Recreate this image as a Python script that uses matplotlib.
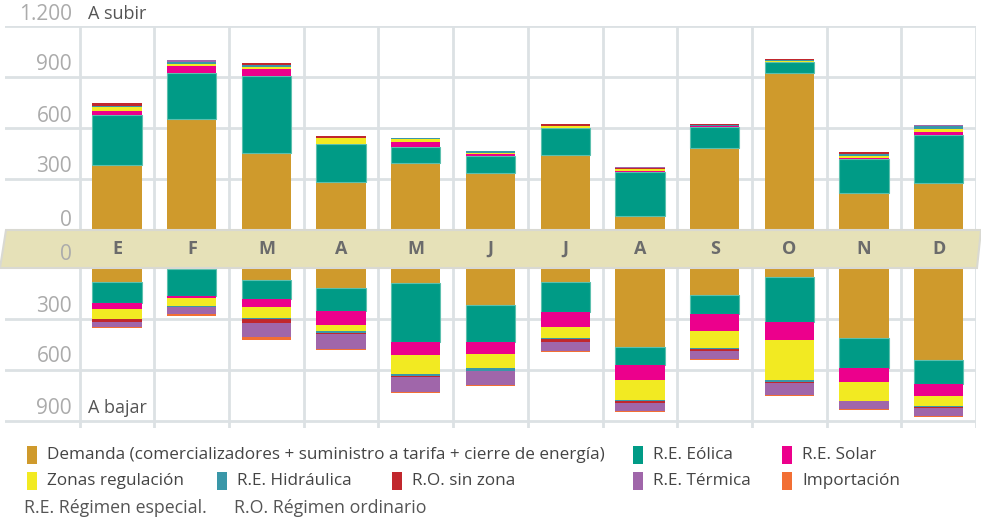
import matplotlib.pyplot as plt
from matplotlib.patches import Polygon, Rectangle
import numpy as np

plt.rcParams['font.family'] = ['Open Sans', 'DejaVu Sans']

months = ['E', 'F', 'M', 'A', 'M', 'J', 'J', 'A', 'S', 'O', 'N', 'D']

series = ['Demanda', 'R.E. Eólica', 'R.E. Solar', 'Zonas regulación',
          'R.E. Hidráulica', 'R.O. sin zona', 'R.E. Térmica', 'Importación']
colors = ['#CF9A2C', '#009B86', '#EC008C', '#F2EA22',
          '#3A97A8', '#C1272D', '#A066AA', '#F26F34']

# "A subir" (upward regulation), MWh per month
up_demanda = [382, 653, 453, 282, 392, 335, 441, 82, 482, 924, 218, 276]
up_eolica = [294, 271, 455, 224, 96, 100, 157, 259, 124, 64, 198, 283]
up_solar = [26, 41, 39, 2, 30, 14, 0, 8, 5, 0, 8, 18]
up_zonas = [23, 12, 12, 31, 17, 6, 16, 10, 0, 8, 11, 15]
up_hidraulica = [6, 11, 14, 0, 6, 8, 0, 0, 6, 4, 12, 20]
up_rosz = [14, 0, 11, 12, 0, 0, 7, 6, 6, 6, 12, 0]
up_termica = [0, 12, 0, 0, 0, 2, 5, 4, 3, 0, 0, 6]
up_import = [0, 0, 0, 0, 0, 0, 0, 0, 0, 0, 0, 0]

# "A bajar" (downward regulation)
dn_demanda = [82, 8, 71, 116, 90, 220, 84, 467, 159, 53, 414, 541]
dn_eolica = [126, 155, 111, 139, 343, 213, 173, 102, 112, 263, 176, 141]
dn_solar = [33, 13, 47, 80, 79, 73, 90, 90, 100, 108, 81, 71]
dn_zonas = [59, 46, 65, 36, 112, 82, 65, 118, 100, 235, 111, 59]
dn_hidraulica = [0, 9, 6, 11, 9, 18, 8, 7, 7, 10, 2, 6]
dn_rosz = [16, 0, 24, 5, 8, 0, 15, 10, 10, 8, 0, 6]
dn_termica = [31, 40, 82, 90, 88, 82, 55, 47, 47, 68, 47, 45]
dn_import = [6, 9, 16, 5, 6, 4, 4, 6, 4, 6, 6, 6]

up = [up_demanda, up_eolica, up_solar, up_zonas, up_hidraulica, up_rosz, up_termica, up_import]
dn = [dn_demanda, dn_eolica, dn_solar, dn_zonas, dn_hidraulica, dn_rosz, dn_termica, dn_import]

legend_labels = ['Demanda (comercializadores + suministro a tarifa + cierre de energía)',
                 'R.E. Eólica', 'R.E. Solar', 'Zonas regulación', 'R.E. Hidráulica',
                 'R.O. sin zona', 'R.E. Térmica', 'Importación']

W, H = 981, 523
fig = plt.figure(figsize=(W / 100, H / 100), dpi=100)


def fx(x):
    return x / W


def fy(y):
    return 1 - y / H


grid_c = '#DCE1E4'
x = np.arange(len(months))


def setup(ax, ymax, ticks):
    ax.set_xlim(-1.5, 11.5)
    ax.set_ylim(0, ymax)
    ax.set_xticks(np.arange(-0.5, 12, 1))
    ax.set_yticks(ticks)
    ax.tick_params(length=0, labelleft=False, labelbottom=False)
    ax.grid(True, color=grid_c, linewidth=2)
    ax.set_axisbelow(True)
    for s in ax.spines.values():
        s.set_visible(False)


def stack(ax, data):
    bottom = np.zeros(len(months))
    for vals, c in zip(data, colors):
        vals = np.array(vals, dtype=float)
        ec = '#5CC0AE' if c == '#009B86' else 'none'
        ax.bar(x, vals, 0.66, bottom=bottom, color=c, edgecolor=ec,
               linewidth=0.8, zorder=2)
        bottom += vals


# top panel
ax1 = fig.add_axes([fx(5), fy(230), fx(976) - fx(5), fy(26) - fy(230)])
setup(ax1, 1200, [300, 600, 900, 1200])
stack(ax1, up)

# bottom panel
ax2 = fig.add_axes([fx(5), fy(428), fx(976) - fx(5), fy(268) - fy(428)])
setup(ax2, 941, [300, 600, 900])
ax2.invert_yaxis()
stack(ax2, dn)

tick_c = '#ABABAB'
for v, y in zip(['1.200', '900', '600', '300', '0'], [14, 64, 116, 167, 220]):
    fig.text(fx(72), fy(y), v, ha='right', va='center', fontsize=15, color=tick_c)
for v, y in zip(['0', '300', '600', '900'], [255, 307, 357, 408]):
    fig.text(fx(72), fy(y), v, ha='right', va='center', fontsize=15, color=tick_c, zorder=5)

fig.text(fx(88), fy(14), 'A subir', ha='left', va='center', fontsize=13, color='#555555')
fig.text(fx(88), fy(408), 'A bajar', ha='left', va='center', fontsize=13, color='#555555')

# month band
band = Polygon([(fx(6), fy(230)), (fx(981), fy(230)), (fx(977), fy(268)), (fx(0), fy(268))],
               closed=True, transform=fig.transFigure, facecolor='#E6E1B8',
               edgecolor='#D9D9D2', linewidth=1.5, zorder=3)
fig.patches.append(band)
for i, m in enumerate(months):
    cx = 80 + (i + 0.5) * (976 - 80) / 12
    fig.text(fx(cx), fy(249), m, ha='center', va='center', fontsize=13,
             fontweight='bold', color='#6B6B6B', zorder=5)

# legend
leg_pos = [(27, 455), (633, 455), (782, 455), (27, 481), (217, 481),
           (392, 481), (633, 481), (782, 481)]
for (lx, ly), lab, c in zip(leg_pos, legend_labels, colors):
    fig.patches.append(Rectangle((fx(lx), fy(ly + 9)), 10 / W, 18 / H,
                                 transform=fig.transFigure, facecolor=c, edgecolor='none'))
    fig.text(fx(lx + 20), fy(ly), lab, ha='left', va='center', fontsize=12.3, color='#444444')

fig.text(fx(24), fy(508), 'R.E. Régimen especial.', ha='left', va='center',
         fontsize=12.8, color='#555555')
fig.text(fx(234), fy(508), 'R.O. Régimen ordinario', ha='left', va='center',
         fontsize=12.8, color='#555555')

fig.savefig('out.png', dpi=100)
